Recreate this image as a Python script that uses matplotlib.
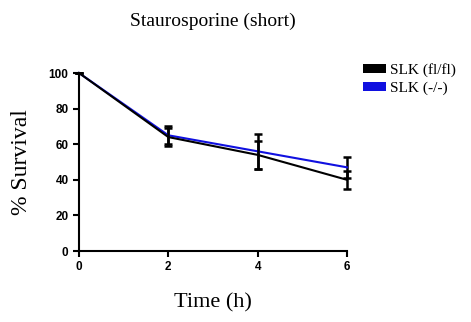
import matplotlib.pyplot as plt
from matplotlib.patches import Patch

## values
time_h = [0, 2, 4, 6]
slk_flfl = [100, 64, 54, 40]
slk_flfl_err = [0, 5, 8, 5]
slk_ko = [100, 65, 56, 47]
slk_ko_err = [0, 5, 10, 6]
series_names = ['SLK (fl/fl)', 'SLK (-/-)']

fig = plt.figure(figsize=(4.71, 3.22), dpi=100)
ax = fig.add_axes([79/471, 1 - 251/322, (347-79)/471, (251-73)/322])

for y, e, c, z in [(slk_ko, slk_ko_err, '#1010e0', 2), (slk_flfl, slk_flfl_err, 'black', 3)]:
    eb = ax.errorbar(time_h, y, yerr=e, color=c, lw=1.5,
                     ecolor='black', elinewidth=1.8, capsize=3, capthick=1.8, zorder=z)
    for art in eb.get_children():
        art.set_clip_on(False)

ax.set_xlim(0, 6)
ax.set_ylim(0, 100)
ax.set_xticks([0, 2, 4, 6])
ax.set_yticks([0, 20, 40, 60, 80, 100])
ax.spines['top'].set_visible(False)
ax.spines['right'].set_visible(False)
for s in ['left', 'bottom']:
    ax.spines[s].set_linewidth(1.5)
ax.tick_params(direction='out', width=1.5, length=4, labelsize=8.5)
for lab in ax.get_xticklabels() + ax.get_yticklabels():
    lab.set_fontweight('bold')
    lab.set_family('Liberation Sans')

serif = 'Liberation Serif'
ax.set_title('Staurosporine (short)', family=serif, fontsize=14, pad=34)
ax.set_ylabel('% Survival', family=serif, fontsize=17, labelpad=12)
ax.set_xlabel('Time (h)', family=serif, fontsize=16, labelpad=14)

handles = [Patch(facecolor='black'), Patch(facecolor='#1010e0')]
fig.legend(handles, series_names, loc='upper left', bbox_to_anchor=(363/471, 1 - 63/322),
           frameon=False, prop={'family': serif, 'size': 11},
           handlelength=1.5, handleheight=0.6, handletextpad=0.3, labelspacing=0.3,
           borderaxespad=0, borderpad=0)

fig.savefig('out.png', dpi=100)
